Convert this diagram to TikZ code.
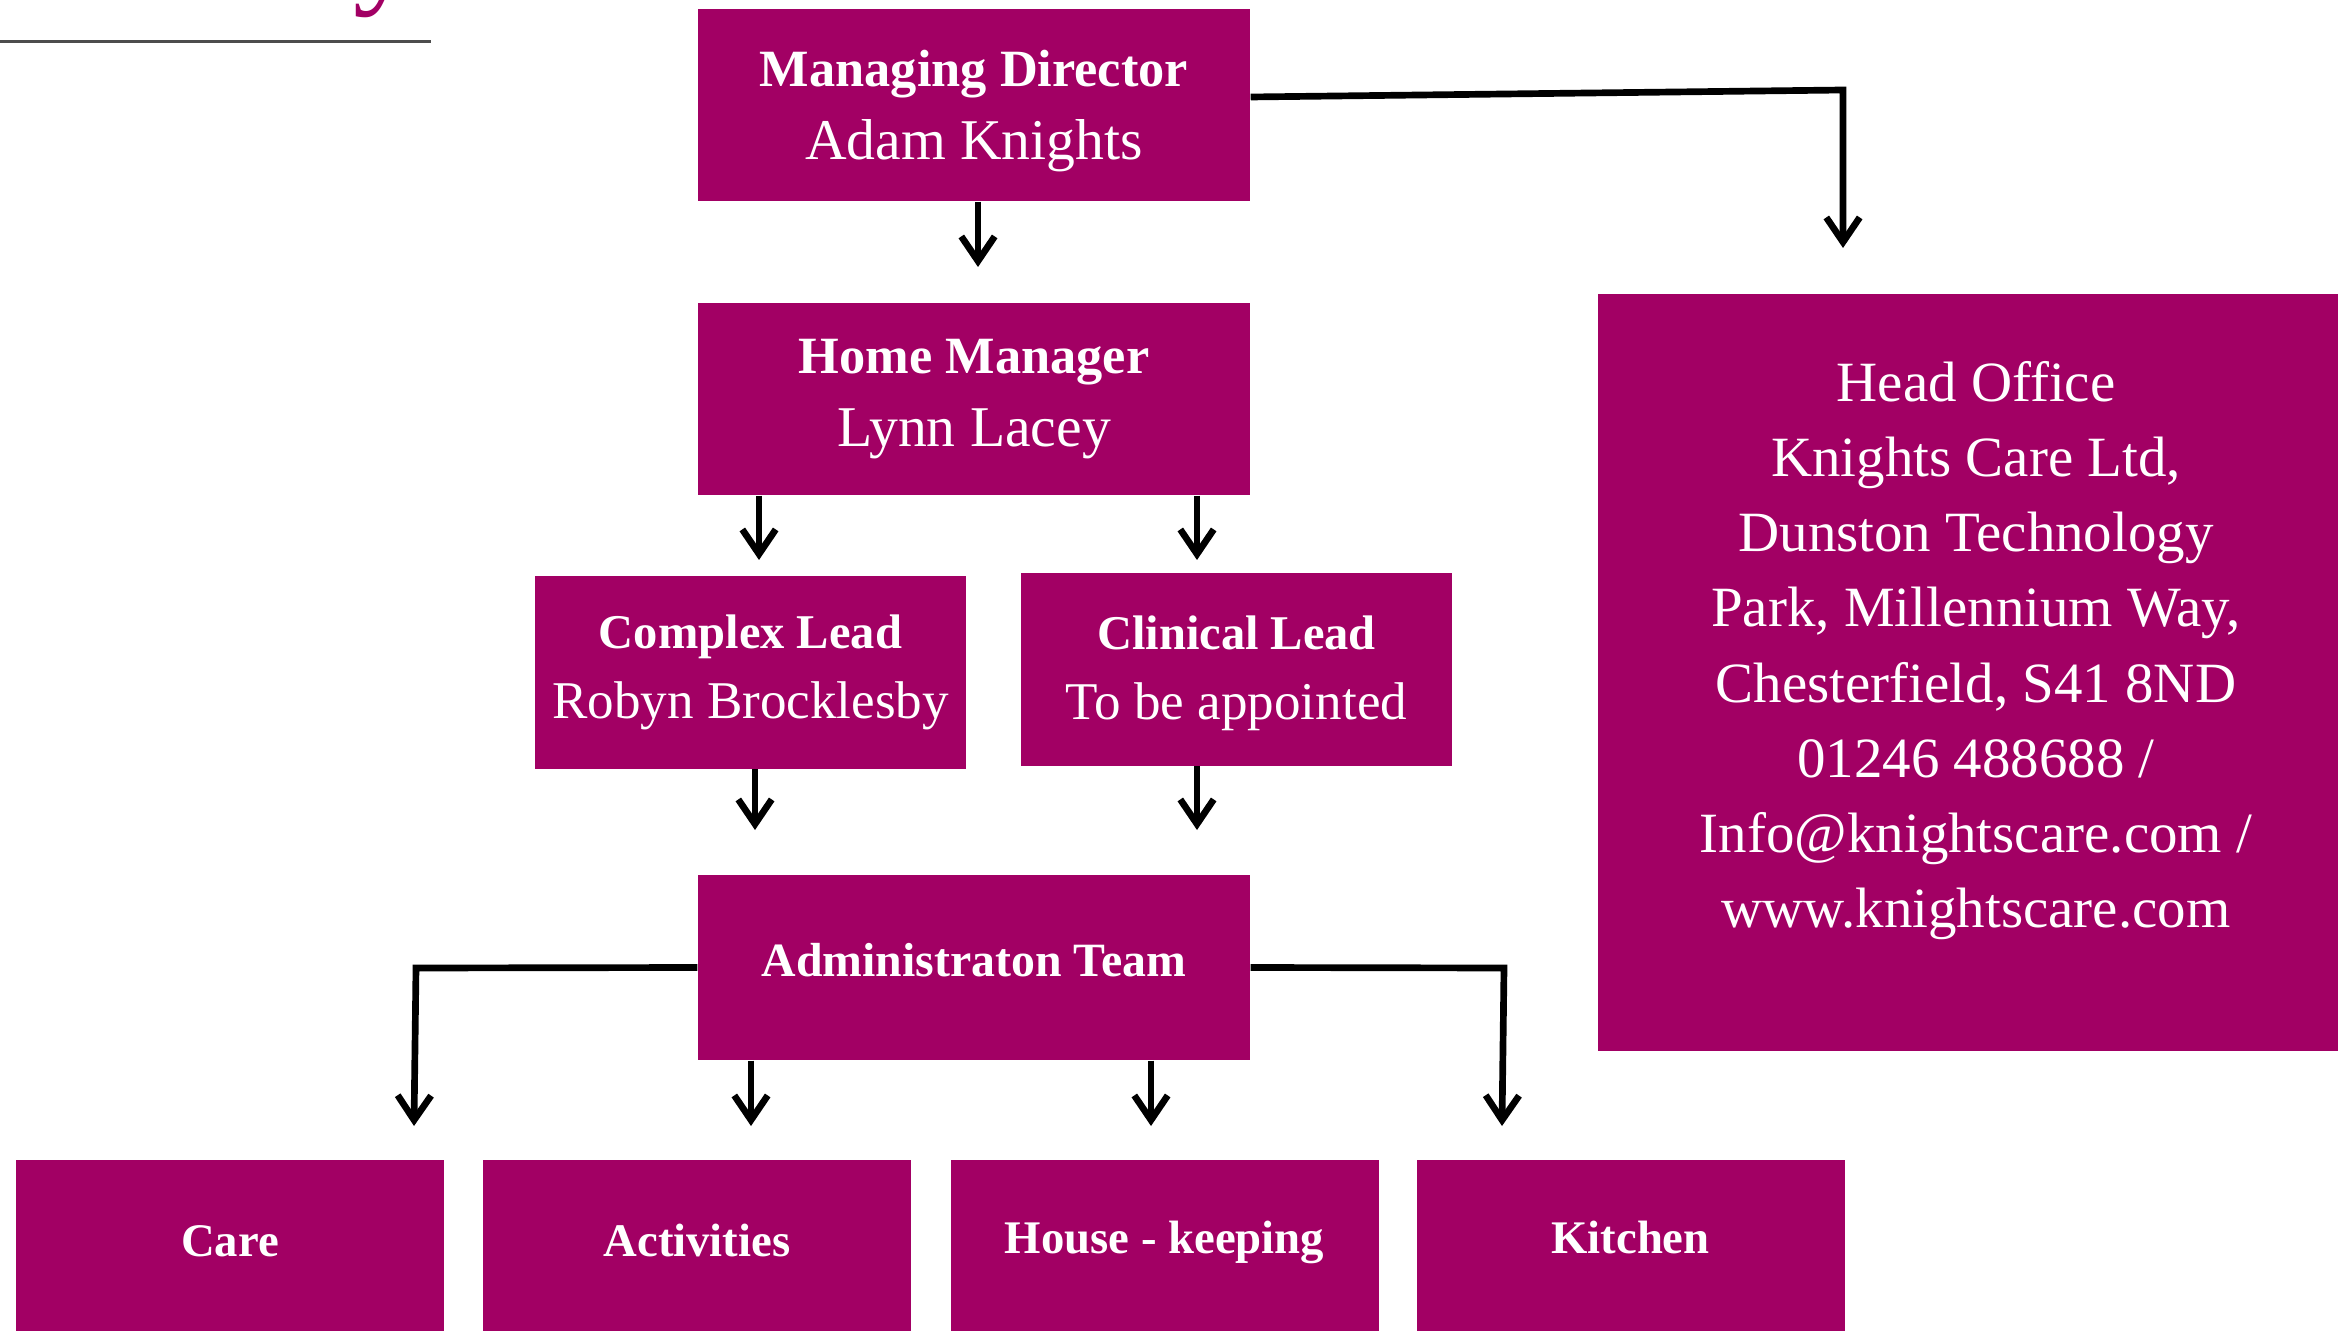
\documentclass[tikz,border=0pt]{standalone}
\usepackage{fontspec}
\setmainfont{Liberation Serif}
\usetikzlibrary{arrows.meta, calc}
\definecolor{kcpink}{HTML}{A20064}
\definecolor{rulegray}{HTML}{4D4D4D}

\begin{document}
\begin{tikzpicture}[
    box/.style={fill=kcpink, text=white, inner sep=0pt, align=center},
    lead/.style={box, minimum width=5.52cm, minimum height=1.92cm, font=\fontsize{16.4}{20.8}\selectfont},
    sub/.style={box, minimum width=4.31cm, minimum height=1.92cm, font=\fontsize{15.1}{19.9}\selectfont},
    dept/.style={box, minimum width=4.28cm, minimum height=1.78cm, text height=9pt, text depth=5pt, font=\fontsize{13.3}{16}\selectfont\bfseries},
    arr/.style={-{Straight Barb[length=7pt, width=9.5pt]}, line width=1.9pt},
    link/.style={line width=1.9pt}
  ]
  \useasboundingbox (0, 0) rectangle (23.38, 13.30);
  \clip (0, 0) rectangle (23.38, 13.30);

  % heading remnant
  \node[anchor=base west, inner sep=0pt, text=kcpink, font=\fontsize{36}{40}\selectfont] (ttl) at (3.53, 13.39) {y};
  \draw[rulegray, line width=0.85pt] (0, 12.88) -- (4.31, 12.88);

  \node[lead, text depth=0pt] (md) at (9.74, 12.25) {{\bfseries\fontsize{14.9}{20.8}\selectfont Managing Director}\\Adam Knights};
  \node[lead] (hm) at (9.74, 9.31) {{\bfseries\fontsize{14.9}{20.8}\selectfont Home Manager}\\Lynn Lacey};
  \node[sub] (cx) at (7.505, 6.575) {{\bfseries\fontsize{13.8}{19.9}\selectfont Complex Lead}\\Robyn Brocklesby};
  \node[sub, text depth=1.2pt] (cl) at (12.365, 6.605) {{\bfseries\fontsize{13.8}{19.9}\selectfont Clinical Lead}\\To be appointed};
  \node[box, minimum width=5.52cm, minimum height=1.85cm, text depth=4.2pt, font=\fontsize{13.6}{16}\selectfont\bfseries] (ad) at (9.74, 3.625) {Administraton Team};

  \node[box, minimum width=7.56cm, minimum height=7.57cm] (ho) at (19.76, 6.575) {};
  \node[align=center, text=white, inner sep=0pt, font=\fontsize{16.2}{21.4}\selectfont] (hotxt) at ($(ho.center)+(0, 0.22)$)
    {Head Office\\Knights Care Ltd,\\Dunston Technology\\Park, Millennium Way,\\Chesterfield, S41 8ND\\01246 488688 /\\Info@knightscare.com /\\www.knightscare.com};

  \node[dept] (care) at (2.30, 0.807) {Care};
  \node[dept] (act) at (6.97, 0.807) {Activities};
  \node[dept, text depth=6.7pt] (hk) at (11.645, 0.807) {House - keeping};
  \node[dept, text depth=6.7pt] (kit) at (16.305, 0.807) {Kitchen};

  % arrow ends
  \coordinate (mdtip) at (9.78, 10.63);
  \coordinate (hoturn) at (18.43, 12.40);
  \coordinate (hotip) at (18.43, 10.82);
  \coordinate (cxtip) at (7.59, 7.70);
  \coordinate (cltip) at (11.97, 7.70);
  \coordinate (adtip1) at (7.55, 5.00);
  \coordinate (adtip2) at (11.97, 5.00);
  \coordinate (lturn) at (4.16, 3.62);
  \coordinate (ltip) at (4.14, 2.04);
  \coordinate (rturn) at (15.04, 3.62);
  \coordinate (rtip) at (15.02, 2.04);
  \coordinate (acttip) at (7.51, 2.04);
  \coordinate (hktip) at (11.51, 2.04);

  \draw[arr] (mdtip |- md.south) -- (mdtip);
  \draw[arr] ($(md.east)+(0, 0.08)$) -- (hoturn) -- (hotip);
  \draw[arr] (cxtip |- hm.south) -- (cxtip);
  \draw[arr] (cltip |- hm.south) -- (cltip);
  \draw[arr] (adtip1 |- cx.south) -- (adtip1);
  \draw[arr] (adtip2 |- cl.south) -- (adtip2);
  \draw[arr] (ad.west) -- (lturn) -- (ltip);
  \draw[arr] (ad.east) -- (rturn) -- (rtip);
  \draw[arr] (acttip |- ad.south) -- (acttip);
  \draw[arr] (hktip |- ad.south) -- (hktip);
\end{tikzpicture}
\end{document}
